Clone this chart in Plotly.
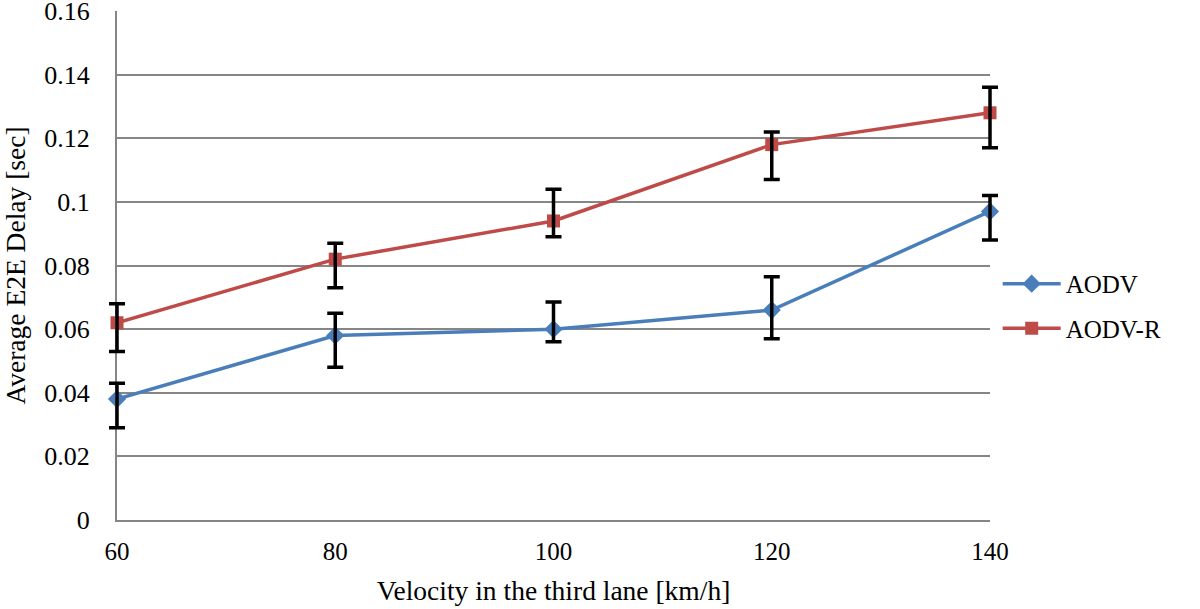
import plotly.graph_objects as go

velocity = [60, 80, 100, 120, 140]
aodv = [0.038, 0.058, 0.060, 0.066, 0.097]
aodv_hi = [0.043, 0.065, 0.0685, 0.0765, 0.102]
aodv_lo = [0.029, 0.048, 0.056, 0.057, 0.088]
aodvr = [0.062, 0.082, 0.094, 0.118, 0.128]
aodvr_hi = [0.068, 0.087, 0.104, 0.122, 0.136]
aodvr_lo = [0.053, 0.073, 0.089, 0.107, 0.117]

blue = "#4A7EBB"
red = "#BE4B48"
font = "Liberation Serif"

# layout geometry (figure pixels)
ML, MR, MT, MB = 90, 180, 11, 89
W, H = 1200, 609
area_w = W - ML - MR
px_left, px_right = 117, 990          # desired plot edges in figure px
d0 = (px_left - ML) / area_w
d1 = (px_right - ML) / area_w
xmin, xmax = velocity[0], velocity[-1]
ppu = (px_right - px_left) / (xmax - xmin)
x2_range = [xmin - (px_left - ML) / ppu, xmax + (ML + area_w - px_right) / ppu]

fig = go.Figure()
fig.add_trace(go.Scatter(x=velocity, y=aodv, name="AODV", mode="lines+markers",
                         line=dict(color=blue, width=3.5), cliponaxis=False,
                         marker=dict(symbol="diamond", size=14, color=blue),
                         legendgroup="a"))
fig.add_trace(go.Scatter(x=velocity, y=aodvr, name="AODV-R", mode="lines+markers",
                         line=dict(color=red, width=3.5), cliponaxis=False,
                         marker=dict(symbol="square", size=13, color=red),
                         legendgroup="b"))

for vals, hi, lo in [(aodv, aodv_hi, aodv_lo), (aodvr, aodvr_hi, aodvr_lo)]:
    fig.add_trace(go.Scatter(
        x=velocity, y=vals, mode="markers", showlegend=False, hoverinfo="skip",
        xaxis="x2", yaxis="y2",
        marker=dict(size=1, color="rgba(0,0,0,0)"),
        error_y=dict(type="data", symmetric=False,
                     array=[h - v for h, v in zip(hi, vals)],
                     arrayminus=[v - l for v, l in zip(vals, lo)],
                     color="black", thickness=3.5, width=8)))

fig.update_layout(
    width=W, height=H,
    margin=dict(l=ML, r=MR, t=MT, b=MB, autoexpand=False),
    paper_bgcolor="white", plot_bgcolor="rgba(0,0,0,0)",
    font=dict(family=font, size=26, color="black"),
    legend=dict(x=0.976, y=0.509, xanchor="left", yanchor="top",
                font=dict(family=font, size=25, color="black"),
                tracegroupgap=9, traceorder="grouped", itemwidth=58),
    showlegend=True,
    xaxis=dict(domain=[d0, d1], range=[xmin, xmax], tickvals=velocity, showgrid=False,
               showline=True, linecolor="#868686", linewidth=2,
               ticks="", ticklabelstandoff=8, automargin=False,
               ticklabeloverflow="allow",
               tickfont=dict(size=25),
               title=dict(text="Velocity in the third lane [km/h]", standoff=17,
                          font=dict(size=27.5)),
               zeroline=False),
    yaxis=dict(range=[0, 0.16], dtick=0.02, showgrid=True, gridcolor="#868686",
               gridwidth=2, showline=True, linecolor="#868686", linewidth=2,
               ticks="", ticklabelstandoff=20, zeroline=False, automargin=False,
               ticklabeloverflow="allow",
               tickfont=dict(size=26),
               title=dict(text="Average E2E Delay [sec]", standoff=14,
                          font=dict(size=27.5))),
    xaxis2=dict(domain=[0, 1], range=x2_range, visible=False, anchor="y2"),
    yaxis2=dict(domain=[0, 1], range=[0, 0.16], visible=False, anchor="x2"),
)

fig.write_html("out.html", config={"displayModeBar": False},
               post_script="document.body.style.margin='0';document.documentElement.style.margin='0';")
